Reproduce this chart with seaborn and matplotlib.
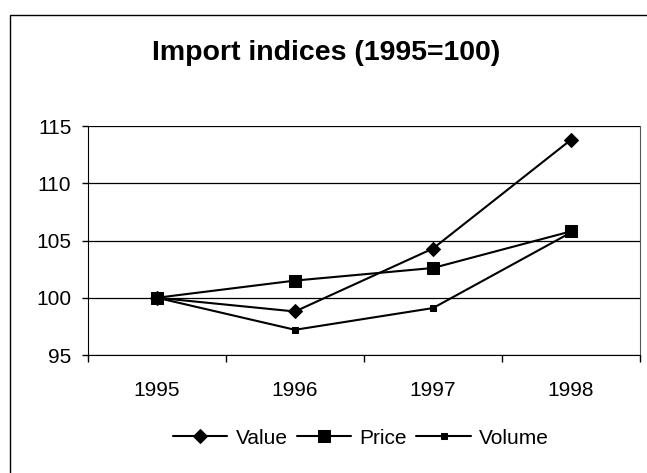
import matplotlib
matplotlib.use("Agg")
import matplotlib.pyplot as plt
import seaborn as sns
import pandas as pd
from matplotlib.patches import Rectangle
from matplotlib.ticker import FixedLocator, NullFormatter

years = ["1995", "1996", "1997", "1998"]
value = [100.0, 98.8, 104.3, 113.8]
price = [100.0, 101.5, 102.6, 105.8]
volume = [100.0, 97.2, 99.1, 105.7]
series_names = ["Value", "Price", "Volume"]
yticks = [95, 100, 105, 110, 115]

sns.set_style("white")
plt.rcParams['font.family'] = ['Liberation Sans', 'DejaVu Sans']
plt.rcParams['text.color'] = 'black'
plt.rcParams['xtick.color'] = 'black'
plt.rcParams['ytick.color'] = 'black'

fig = plt.figure(figsize=(6.47, 4.73), dpi=100)
ax = fig.add_axes([88/647, 118/473, (640-88)/647, (355-126)/473])

df = pd.DataFrame({"year": years * 3,
                   "x": list(range(len(years))) * 3,
                   "val": value + price + volume,
                   "series": sum([[s] * len(years) for s in series_names], [])})

markers = {"Value": "D", "Price": "s", "Volume": "s"}
sizes = {"Value": 7, "Price": 8, "Volume": 5}
for s in series_names:
    sub = df[df.series == s]
    sns.lineplot(data=sub, x="x", y="val", ax=ax, color="black", lw=1.5,
                 marker=markers[s], markersize=sizes[s], markeredgecolor="black",
                 label=s)

ax.set_xlim(-0.5, len(years) - 0.5)
ax.set_ylim(95, 115)
ax.set_yticks(yticks)
ax.set_yticklabels([str(t) for t in yticks], fontsize=15)
ax.set_xticks(range(len(years)))
ax.set_xticklabels(years, fontsize=15)
ax.tick_params(axis='x', which='major', length=0, pad=19)
ax.xaxis.set_minor_locator(FixedLocator([i - 0.5 for i in range(len(years) + 1)]))
ax.xaxis.set_minor_formatter(NullFormatter())
ax.tick_params(axis='x', which='minor', length=5, width=1, color='black', direction='out', bottom=True)
ax.tick_params(axis='y', length=4, width=1, color='black', direction='out', left=True, pad=8)
ax.set_xlabel("")
ax.set_ylabel("")
ax.grid(axis='y', color='black', lw=0.9)
ax.set_axisbelow(True)
ax.spines["top"].set_visible(False)
ax.spines["right"].set_color("#555555")
ax.spines["left"].set_color("black")
ax.spines["bottom"].set_color("black")

ax.legend(loc="center", bbox_to_anchor=(361 / 647, (473 - 438) / 473), bbox_transform=fig.transFigure,
          ncol=3, frameon=False, fontsize=15, handlelength=2.6, columnspacing=0.45, handletextpad=0.4,
          borderaxespad=0, borderpad=0)

fig.text(326 / 647, (473 - 60) / 473, "Import indices (1995=100)", ha="center", va="baseline",
         fontsize=20.5, fontweight="bold")

fig.patches.append(Rectangle((10/647, -0.01), 1.0, (473 - 15) / 473 + 0.01,
                             transform=fig.transFigure, fill=False, edgecolor="black", lw=1))

fig.savefig("out.png", dpi=100)
